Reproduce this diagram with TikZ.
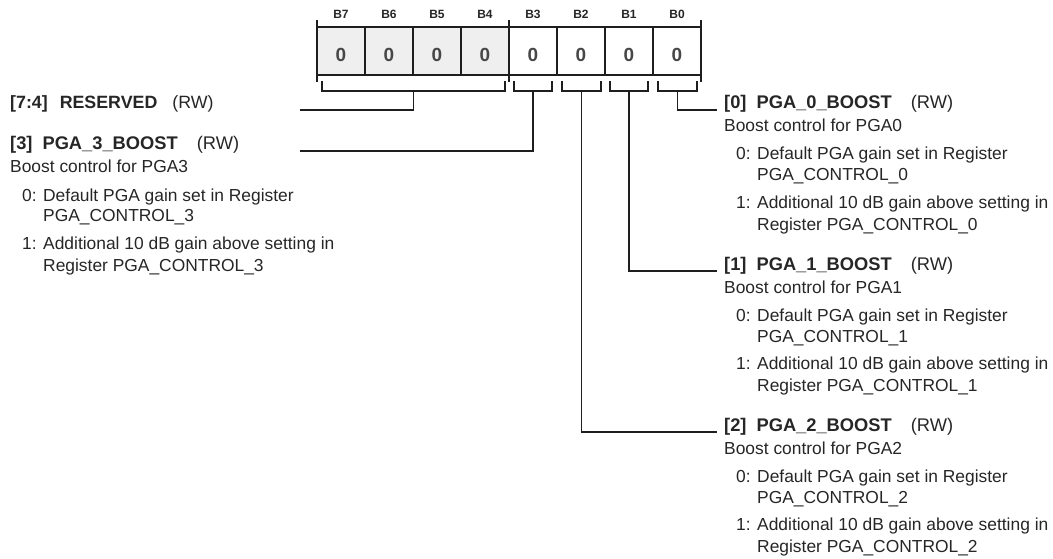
\documentclass[tikz,border=0pt]{standalone}
\usepackage{fontspec}
\setmainfont{Liberation Sans}
\definecolor{txt}{HTML}{262626}
\definecolor{linec}{HTML}{1E1E1E}
\definecolor{resfill}{HTML}{EFEFEF}
\newcommand\pgafield[4]{%
  \node[hdr] (#1) at (#2,#3) {\fontsize{18.3}{20}\selectfont\textbf{[#4]}\hspace{10pt}\textbf{PGA\_#4\_BOOST}\hspace{19pt}(RW)};
  \node[body] (#1b) at (#2,#3+23) {Boost control for PGA#4};
  \node[body] (#1i0) at (#2+12,#3+51) {\makebox[21pt][l]{0:}Default PGA gain set in Register};
  \node[body] (#1i0c) at (#2+33,#3+72) {PGA\_CONTROL\_#4};
  \node[body] (#1i1) at (#2+12,#3+99) {\makebox[21pt][l]{1:}Additional 10 dB gain above setting in};
  \node[body] (#1i1c) at (#2+33,#3+121) {Register PGA\_CONTROL\_#4};
}
\begin{document}
\begin{tikzpicture}[x=1pt,y=-1pt,
  hdr/.style={anchor=base west, inner sep=0pt, text=txt, font=\fontsize{17.8}{20}\selectfont},
  body/.style={anchor=base west, inner sep=0pt, text=txt, font=\fontsize{17.4}{20}\selectfont},
  cell/.style={draw=linec, line width=1.2pt, minimum width=48pt, minimum height=48pt, inner sep=0pt,
    text=txt!85, font=\fontsize{19}{20}\selectfont\bfseries, text height=22pt, text depth=0pt},
  bitlbl/.style={anchor=base, inner sep=0pt, text=txt, font=\fontsize{12}{12}\selectfont\bfseries},
  conn/.style={draw=linec, line width=1.2pt},
]
\useasboundingbox (0,0) rectangle (1053,559);

% register cells
\foreach \i/\n in {7/B7,6/B6,5/B5,4/B4}{
  \node[cell, fill=resfill] (c\i) at ({317+48*(7-\i)+24},51) {0};
  \node[bitlbl] (l\i) at ({317+48*(7-\i)+24},18.5) {\n};
}
\foreach \i/\n in {3/B3,2/B2,1/B1,0/B0}{
  \node[cell, fill=white] (c\i) at ({317+48*(7-\i)+24},51) {0};
  \node[bitlbl] (l\i) at ({317+48*(7-\i)+24},18.5) {\n};
}

% field boundary ticks
\foreach \x in {317,509,701}{
  \draw[conn] (\x,20) -- (\x,82);
}

% brackets under the fields
\foreach \nm/\lx/\rx in {b74/322/505, b3/514/552, b2/562/601, b1/610/648, b0/658/697}{
  \draw[conn] (\lx,81) -- (\lx,91) -- (\rx,91) -- (\rx,81);
  \coordinate (\nm) at ({(\lx+\rx)/2},91);
}

% left descriptions
\node[hdr] (h74) at (10,109) {\textbf{[7:4]}\hspace{12pt}\textbf{RESERVED}\hspace{15pt}(RW)};
\pgafield{h3}{10}{150}{3}

% right descriptions
\pgafield{h0}{724}{109}{0}
\pgafield{h1}{724}{270}{1}
\pgafield{h2}{724}{431}{2}

% connector end points
\coordinate (e74) at (300,110);
\coordinate (e3) at (300,151);
\coordinate (e0) at (717,110);
\coordinate (e1) at (717,271);
\coordinate (e2) at (717,432);

\draw[conn] (b74) |- (e74);
\draw[conn] (b3) |- (e3);
\draw[conn] (b0) |- (e0);
\draw[conn] (b1) |- (e1);
\draw[conn] (b2) |- (e2);
\end{tikzpicture}
\end{document}
